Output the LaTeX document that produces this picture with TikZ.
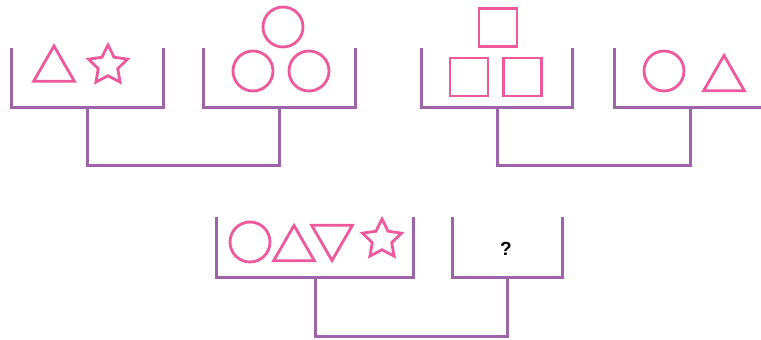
\documentclass[tikz,border=0pt]{standalone}
\usepackage{fontspec}
\setsansfont{Liberation Sans}
\usetikzlibrary{shapes.geometric}
\definecolor{traycol}{RGB}{158,100,170}
\definecolor{shapecol}{RGB}{238,88,156}

\begin{document}
\begin{tikzpicture}[x=1pt, y=-1pt,
    every node/.style={inner sep=0pt, outer sep=0pt},
    tray/.style={draw=none, minimum height=59pt},
    traylines/.style={draw=traycol, line width=3pt},
    ring/.style={circle, draw=shapecol, line width=2.8pt, minimum size=40pt},
    block/.style={rectangle, draw=shapecol, line width=2.8pt, minimum size=38pt},
    tri/.style={regular polygon, regular polygon sides=3, draw=shapecol,
                line width=2.8pt, minimum size=47pt},
    startip/.style={star, star points=5, star point ratio=2.0, draw=shapecol,
                    line width=2.8pt, minimum size=41pt}]
  \useasboundingbox (0,0) rectangle (761,340);

  % trays
  \node[tray, minimum width=152pt] (trayA) at (87,77.5) {};
  \node[tray, minimum width=152pt] (trayB) at (279,77.5) {};
  \node[tray, minimum width=151pt] (trayC) at (497,77.5) {};
  \node[tray, minimum width=152pt] (trayD) at (690,77.5) {};
  \node[tray, minimum width=197pt, minimum height=60pt] (trayE) at (315,247) {};
  \node[tray, minimum width=110pt, minimum height=60pt] (trayF) at (507,247) {};

  \foreach \t in {trayA,trayB,trayC,trayD,trayE,trayF}
    \draw[traylines] (\t.north west) |- (\t.south east) -- (\t.north east);

  % joins below the pairs (y runs downwards)
  \draw[traylines] (trayA.south) -- ++(0,58) -| (trayB.south);
  \draw[traylines] (trayC.south) -- ++(0,58) -| (trayD.south);
  \draw[traylines] (trayE.south) -- ++(0,59) -| (trayF.south);

  % contents
  \node[tri] (triA) at (54,69.5) {};
  \node[startip] (starA) at (108,65.5) {};

  \node[ring] (ringB1) at (283,27) {};
  \node[ring] (ringB2) at (253,71) {};
  \node[ring] (ringB3) at (309,71) {};

  \node[block] (blockC1) at (498,27.5) {};
  \node[block] (blockC2) at (469,77) {};
  \node[block] (blockC3) at (522.5,77) {};

  \node[ring] (ringD) at (664,71) {};
  \node[tri] (triD) at (724,79) {};

  \node[ring] (ringE) at (250,242) {};
  \node[tri] (triE1) at (294,249) {};
  \node[tri, shape border rotate=180] (triE2) at (332,237) {};
  \node[startip] (starE) at (382,239.5) {};

  \node[font=\sffamily\bfseries\fontsize{19}{19}\selectfont] (ask) at (506,249) {?};
\end{tikzpicture}
\end{document}
